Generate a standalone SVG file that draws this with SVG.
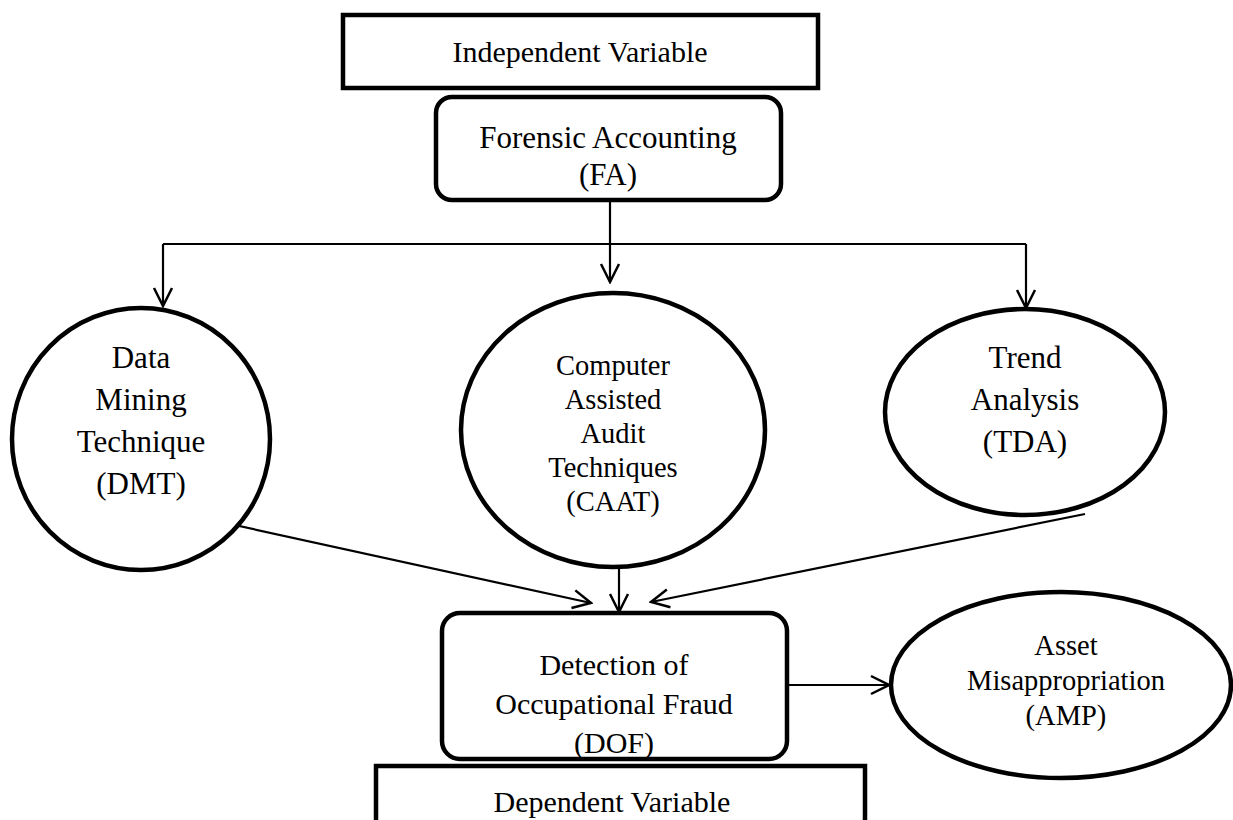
<svg xmlns="http://www.w3.org/2000/svg" width="1233" height="820" viewBox="0 0 1233 820">
<defs>
<marker id="arr" markerUnits="userSpaceOnUse" markerWidth="24" markerHeight="24" viewBox="0 0 24 24" refX="22" refY="12" orient="auto">
<path d="M4,3 L22,12 L4,21" fill="none" stroke="#000" stroke-width="2.5"/>
</marker>
</defs>
<style>
.box{fill:#fff;stroke:#000;stroke-width:4.5}
.t{font-family:"Liberation Serif","Times New Roman",serif;font-size:30px;fill:#000;text-anchor:middle}
.l{font-size:31px}
.s{font-size:28.5px}
.c{fill:none;stroke:#000;stroke-width:2.2}
</style>
<rect width="1233" height="820" fill="#fff"/>
<g id="connectors">
<path class="c" d="M610,200 V282" marker-end="url(#arr)"/>
<path class="c" d="M163,244 H1026"/>
<path class="c" d="M163,244 V306" marker-end="url(#arr)"/>
<path class="c" d="M1026,244 V308" marker-end="url(#arr)"/>
<path class="c" d="M230,524 L591,603" marker-end="url(#arr)"/>
<path class="c" d="M619,569 V612" marker-end="url(#arr)"/>
<path class="c" d="M1085,514 L651,602" marker-end="url(#arr)"/>
<path class="c" d="M787,685 H889" marker-end="url(#arr)"/>
</g>
<g id="independent">
<rect class="box" x="343" y="15" width="475" height="73"/>
<text class="t" x="580" y="62">Independent Variable</text>
</g>
<g id="fa">
<rect class="box" x="436" y="97" width="345" height="103" rx="16"/>
<text class="t l" x="608" y="148">Forensic Accounting</text>
<text class="t l" x="608" y="185">(FA)</text>
</g>
<g id="dmt">
<ellipse class="box" cx="141" cy="439" rx="129" ry="131"/>
<text class="t l" x="141" y="368">Data</text>
<text class="t l" x="141" y="410">Mining</text>
<text class="t l" x="141" y="452">Technique</text>
<text class="t l" x="141" y="494">(DMT)</text>
</g>
<g id="caat">
<ellipse class="box" cx="613" cy="430" rx="152" ry="137"/>
<text class="t s" x="613" y="375">Computer</text>
<text class="t s" x="613" y="409">Assisted</text>
<text class="t s" x="613" y="443">Audit</text>
<text class="t s" x="613" y="477">Techniques</text>
<text class="t s" x="613" y="511">(CAAT)</text>
</g>
<g id="tda">
<ellipse class="box" cx="1025" cy="412" rx="140" ry="103"/>
<text class="t l" x="1025" y="368">Trend</text>
<text class="t l" x="1025" y="410">Analysis</text>
<text class="t l" x="1025" y="452">(TDA)</text>
</g>
<g id="dof">
<rect class="box" x="442" y="613" width="345" height="146" rx="18"/>
<text class="t" x="614" y="675">Detection of</text>
<text class="t" x="614" y="714">Occupational Fraud</text>
<text class="t" x="614" y="753">(DOF)</text>
</g>
<g id="amp">
<ellipse class="box" cx="1061" cy="685" rx="170" ry="93"/>
<text class="t s" x="1066" y="655">Asset</text>
<text class="t s" x="1066" y="690">Misappropriation</text>
<text class="t s" x="1066" y="725">(AMP)</text>
</g>
<g id="dependent">
<rect class="box" x="376" y="766" width="489" height="70"/>
<text class="t" x="612" y="812">Dependent Variable</text>
</g>
</svg>
